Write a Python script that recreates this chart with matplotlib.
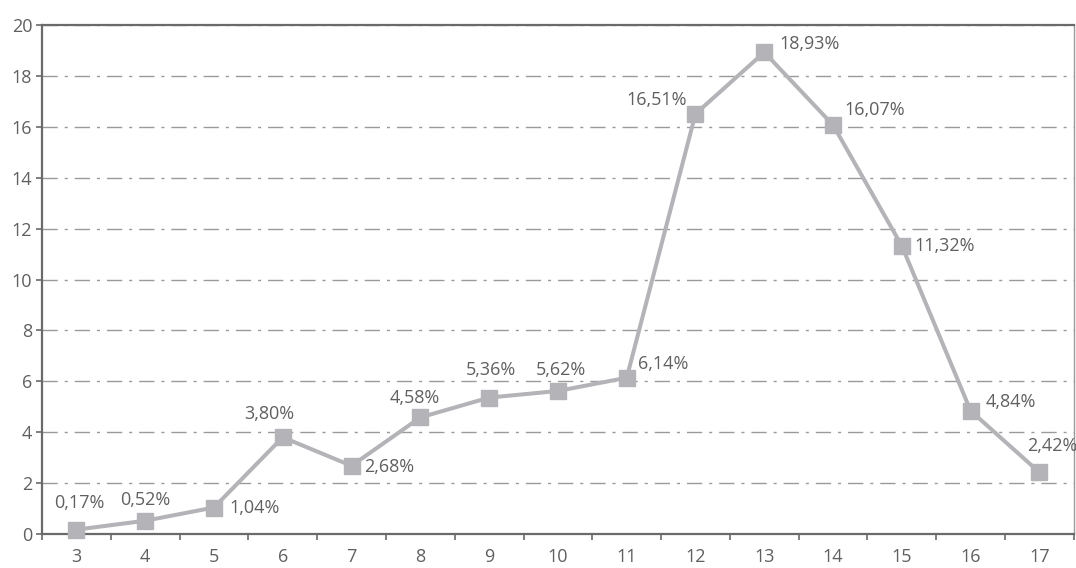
import matplotlib.pyplot as plt
import numpy as np

# ages (categories) and share of cases in %
ages = [3, 4, 5, 6, 7, 8, 9, 10, 11, 12, 13, 14, 15, 16, 17]
shares = [0.17, 0.52, 1.04, 3.80, 2.68, 4.58, 5.36, 5.62, 6.14,
          16.51, 18.93, 16.07, 11.32, 4.84, 2.42]
labels = ["0,17%", "0,52%", "1,04%", "3,80%", "2,68%", "4,58%", "5,36%",
          "5,62%", "6,14%", "16,51%", "18,93%", "16,07%", "11,32%",
          "4,84%", "2,42%"]

# label offsets in points (dx, dy) and horizontal alignment
offsets = [(2, 19, "center"), (0, 15, "center"), (11, 0, "left"),
           (-10, 17, "center"), (9, -1, "left"), (-4, 14, "center"),
           (1, 20, "center"), (2, 15, "center"), (8, 10, "left"),
           (-6, 10, "right"), (11, 6, "left"), (8, 11, "left"),
           (9, 0, "left"), (11, 6, "left"), (9, 19, "center")]

plt.rcParams["font.family"] = ["Open Sans", "DejaVu Sans"]

line_col = "#b4b4b8"
text_col = "#606060"
axis_col = "#6a6a6a"
fs = 13

fig = plt.figure(figsize=(10.76, 5.68), dpi=100)
ax = fig.add_axes([0.039, 0.0599, 0.959, 0.896])

ax.plot(ages, shares, color=line_col, lw=2.9, marker="s", ms=11.5,
        mec=line_col, mfc=line_col, zorder=3, clip_on=False)

for x, y, lab, (dx, dy, ha) in zip(ages, shares, labels, offsets):
    ax.annotate(lab, (x, y), xytext=(dx, dy), textcoords="offset points",
                ha=ha, va="center", fontsize=fs, color=text_col)

ax.set_xlim(2.5, 17.5)
ax.set_ylim(0, 20)
ax.set_yticks(np.arange(0, 21, 2))
ax.set_xticks(ages)
ax.set_xticks(np.arange(2.5, 18, 1), minor=True)
ax.tick_params(axis="x", which="major", length=0, pad=10, labelsize=fs,
               labelcolor=text_col)
ax.tick_params(axis="x", which="minor", length=4, width=1.2, color=axis_col,
               direction="out")
ax.tick_params(axis="y", length=4, width=1.2, color=axis_col, pad=3,
               labelsize=fs, labelcolor=text_col)

ax.yaxis.grid(True, color="#9a9a9a", lw=1, linestyle=(0, (11, 5, 2.2, 5)))
ax.set_axisbelow(True)

for side in ["left", "bottom", "top"]:
    ax.spines[side].set_color(axis_col)
    ax.spines[side].set_linewidth(1.6)
ax.spines["right"].set_color("#9a9a9a")
ax.spines["right"].set_linewidth(1)

fig.savefig("out.png", dpi=100)
